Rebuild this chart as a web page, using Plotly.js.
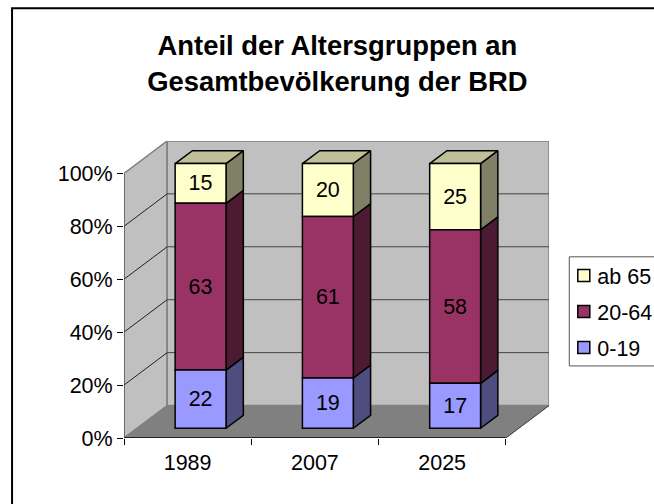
<!DOCTYPE html>
<html><head><meta charset="utf-8">
<script src="https://cdn.plot.ly/plotly-3.0.1.min.js"></script>
<style>html,body{margin:0;padding:0;background:#fff}#c{width:654px;height:504px}</style>
</head><body><div id="c"></div>
<script>
const categories = ['1989','2007','2025'];
const seriesNames = ['0-19','20-64','ab 65'];
const young = [22,19,17];
const middle = [63,61,58];
const old = [15,20,25];
const frontColors = ['#9999FF','#993366','#FFFFCC'];
const sideColors = ['#4D4D80','#4D1A33','#808066'];
const topColor = '#BFBF99';
const yTicks = [0,20,40,60,80,100];

const W=654,H=504,L=123.5,R=548.7,T=141,B=437.7;
const series=[young,middle,old];
const depthX=0.3394, depthY=12.25;
const xMin=-0.5, xMax=2.5+depthX;
const yMax=(B-T)/((B-173.3)/100);
const barW=0.4, front=0.3, back=0.7;

// oblique projection into data coordinates
const px=(x,d)=>x+d*depthX, py=(y,d)=>y+d*depthY;
const poly=(pts)=>'M'+pts.map(p=>p[0]+','+p[1]).join('L')+'Z';
const seg=(x0,y0,x1,y1,color,w)=>({type:'line',layer:'below',xref:'x',yref:'y',x0,y0,x1,y1,line:{color,width:w}});

const shapes=[];
const wall='#C0C0C0', edge='#808080';
shapes.push({type:'rect',layer:'below',xref:'paper',yref:'paper',
  x0:(11.5-L)/(R-L),x1:(700-L)/(R-L),y0:(B-520)/(B-T),y1:(B-8.5)/(B-T),
  line:{color:'#000',width:2},fillcolor:'#fff'});
shapes.push({type:'path',layer:'below',xref:'x',yref:'y',path:poly([[px(xMin,0),0],[px(xMin,1),depthY],[px(xMin,1),py(100,1)],[px(xMin,0),100]]),fillcolor:wall,line:{color:edge,width:1.5}});
shapes.push({type:'path',layer:'below',xref:'x',yref:'y',path:poly([[px(xMin,1),depthY],[px(2.5,1),depthY],[px(2.5,1),py(100,1)],[px(xMin,1),py(100,1)]]),fillcolor:wall,line:{color:edge,width:1.5}});
shapes.push({type:'path',layer:'below',xref:'x',yref:'y',path:poly([[px(xMin,0),0],[px(2.5,0),0],[px(2.5,1),depthY],[px(xMin,1),depthY]]),fillcolor:edge,line:{color:edge,width:1}});
yTicks.filter(v=>v>0&&v<100).forEach(v=>{
  shapes.push(seg(px(xMin,1),py(v,1),px(2.5,1),py(v,1),'#444',1));
  shapes.push(seg(px(xMin,0),v,px(xMin,1),py(v,1),'#222',1));
});
shapes.push(seg(px(xMin,0),0,px(2.5,0),0,'#000',1.3));
shapes.push(seg(px(xMin,0),0,px(xMin,0),100,'#444',1));
shapes.push(seg(px(2.5,0),0,px(2.5,1),depthY,'#444',1));
// legend box
shapes.push({type:'rect',layer:'below',xref:'paper',yref:'paper',
  x0:(569-L)/(R-L),x1:(720-L)/(R-L),y0:(B-365.7)/(B-T),y1:(B-256.7)/(B-T),
  line:{color:'#555',width:1},fillcolor:'#fff'});

const traces=[];
// side and top faces, from the data
series.forEach((vals,s)=>{
  const xs=[],ys=[];
  vals.forEach((v,i)=>{
    let b=0; for(let k=0;k<s;k++) b+=series[k][i];
    const xr=i+barW/2;
    const pts=[[px(xr,front),py(b,front)],[px(xr,back),py(b,back)],[px(xr,back),py(b+v,back)],[px(xr,front),py(b+v,front)],[px(xr,front),py(b,front)]];
    pts.forEach(p=>{xs.push(p[0]);ys.push(p[1]);});
    xs.push(null);ys.push(null);
  });
  traces.push({type:'scatter',mode:'lines',x:xs,y:ys,fill:'toself',fillcolor:sideColors[s],line:{color:'#000',width:1.5},showlegend:false,hoverinfo:'skip',xaxis:'x',yaxis:'y'});
});
{
  const xs=[],ys=[];
  categories.forEach((c,i)=>{
    const top=young[i]+middle[i]+old[i], xl=i-barW/2, xr=i+barW/2;
    [[xl,front],[xl,back],[xr,back],[xr,front],[xl,front]].forEach(p=>{xs.push(px(p[0],p[1]));ys.push(py(top,p[1]));});
    xs.push(null);ys.push(null);
  });
  traces.push({type:'scatter',mode:'lines',x:xs,y:ys,fill:'toself',fillcolor:topColor,line:{color:'#000',width:1.5},showlegend:false,hoverinfo:'skip',xaxis:'x',yaxis:'y'});
}
// front faces, top series first so the legend reads as in the reference
[2,1,0].forEach(s=>{
  const vals=series[s];
  traces.push({type:'bar',name:seriesNames[s],legendgroup:seriesNames[s],x:categories,y:vals,
    base:vals.map((v,i)=>{let b=front*depthY; for(let k=0;k<s;k++) b+=series[k][i]; return b;}),
    width:barW,offset:-barW/2+front*depthX,
    marker:{color:frontColors[s],line:{color:'#000',width:1.5}},
    text:vals.map(String),textposition:'inside',insidetextanchor:'middle',textangle:0,
    textfont:{family:'Liberation Sans, Arial',size:21.5,color:'#000'},constraintext:'none',
    xaxis:'x2',yaxis:'y'});
});

const font={family:'Liberation Sans, Arial, sans-serif',size:21.5,color:'#000'};
const layout={
  width:W,height:H,paper_bgcolor:'#fff',plot_bgcolor:'rgba(0,0,0,0)',font,
  margin:{l:L,r:W-R,t:T,b:H-B,pad:0,autoexpand:false},
  barmode:'overlay',
  title:{text:'Anteil der Altersgruppen an<br>Gesamtbevölkerung der BRD',xref:'paper',x:(337-L)/(R-L),xanchor:'center',yref:'container',y:0.89,yanchor:'top',
    font:{family:'Liberation Sans, Arial',size:27.4,color:'#000',weight:'bold'}},
  xaxis:{type:'linear',range:[xMin,xMax],showgrid:false,zeroline:false,showline:false,showticklabels:false,ticks:''},
  xaxis2:{type:'category',overlaying:'x',anchor:'y',side:'bottom',range:[xMin,xMax],tickson:'boundaries',categoryorder:'array',categoryarray:categories,
    ticks:'outside',ticklen:6,tickcolor:'#000',tickwidth:1,showgrid:false,zeroline:false,showline:false,tickfont:font,tickangle:0,ticklabelstandoff:9},
  yaxis:{range:[0,yMax],tickvals:yTicks,ticktext:yTicks.map(v=>v+'%'),ticks:'outside',ticklen:6,tickcolor:'#000',tickwidth:1,showgrid:false,zeroline:false,showline:false,tickfont:font},
  legend:{x:(563.5-L)/(R-L),xanchor:'left',y:(B-255)/(B-T),yanchor:'top',bgcolor:'rgba(0,0,0,0)',borderwidth:0,tracegroupgap:5,font,itemclick:false,itemdoubleclick:false},
  shapes
};
Plotly.newPlot('c',traces,layout,{displayModeBar:false,staticPlot:true}).then(gd=>{
  gd.querySelectorAll('.legendtext').forEach(t=>t.setAttribute('x',33.5));
});
</script></body></html>
